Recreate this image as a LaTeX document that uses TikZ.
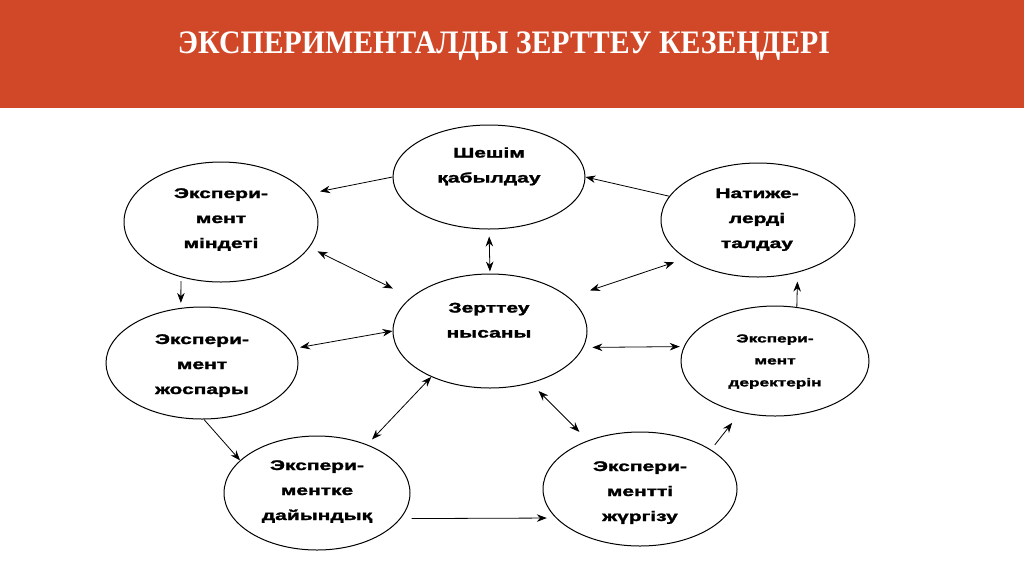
\documentclass[tikz,border=0pt]{standalone}
\usepackage{fontspec}
\usepackage{graphicx}
\newfontfamily\titlefont{Liberation Serif}
\newfontfamily\boxfont{Liberation Sans}[BoldFeatures={FakeBold=1.5}]
\usetikzlibrary{arrows.meta,shapes.geometric}
\definecolor{banner}{RGB}{209,72,40}
\newcommand\etxt[1]{\scalebox{1.5}[1]{\begin{tabular}{@{}c@{}}#1\end{tabular}}}
\tikzset{
  ell/.style={draw, line width=1pt, ellipse, inner sep=0pt},
  lbl/.style={inner sep=0pt, font=\boxfont\bfseries\fontsize{14}{25}\selectfont},
  lblsmall/.style={inner sep=0pt, font=\boxfont\bfseries\fontsize{11.5}{22}\selectfont},
  conn/.style={line width=0.8pt, -{Stealth[length=10pt,width=7.5pt]}},
  conntwo/.style={line width=0.8pt, {Stealth[length=10pt,width=7.5pt]}-{Stealth[length=10pt,width=7.5pt]}}
}
\begin{document}
\begin{tikzpicture}[x=1pt,y=-1pt]
\useasboundingbox (0,0) rectangle (1024,574);
\fill[white] (0,0) rectangle (1024,574);
\fill[banner] (0,0) rectangle (1024,108);
\node[anchor=base, text=white, inner sep=0pt, font=\titlefont\bfseries\fontsize{30}{30}\selectfont] (title) at (504,53) {\scalebox{1}[1.1]{\resizebox{652pt}{!}{ЭКСПЕРИМЕНТАЛДЫ ЗЕРТТЕУ КЕЗЕҢДЕРІ}}};

% ellipses
\node[ell, minimum width=192pt, minimum height=104pt] (S) at (489,177) {};
\node[ell, minimum width=194pt, minimum height=120pt] (M) at (221,222) {};
\node[ell, minimum width=192pt, minimum height=112pt] (J) at (202,363) {};
\node[ell, minimum width=186pt, minimum height=114pt] (D) at (317,493) {};
\node[ell, minimum width=194pt, minimum height=114pt] (G) at (640,489) {};
\node[ell, minimum width=188pt, minimum height=110pt] (R) at (775,361) {};
\node[ell, minimum width=194pt, minimum height=114pt] (N) at (758,220) {};
\node[ell, minimum width=194pt, minimum height=114pt] (Z) at (490,331) {};

% texts
\node[lbl] (St) at (489,165) {\etxt{Шешім\\қабылдау}};
\node[lbl] (Mt) at (221,218) {\etxt{Экспери-\\мент\\міндеті}};
\node[lbl] (Jt) at (202,364) {\etxt{Экспери-\\мент\\жоспары}};
\node[lbl] (Dt) at (317,490) {\etxt{Экспери-\\ментке\\дайындық}};
\node[lbl] (Gt) at (640,491) {\etxt{Экспери-\\ментті\\жүргізу}};
\node[lblsmall] (Rt) at (775,360) {\etxt{Экспери-\\мент\\деректерін}};
\node[lbl] (Nt) at (757,218) {\etxt{Натиже-\\лерді\\талдау}};
\node[lbl] (Zt) at (489,320) {\etxt{Зерттеу\\нысаны}};

% connectors
\draw[conn, shorten >=13pt] (S.west) -- (M.18);
\draw[conn] (N.165) -- (S.east);
\draw[conntwo, shorten <=7pt, shorten >=2pt] (S.south) -- (Z.north);
\draw[conntwo, shorten <=9pt, shorten >=20pt] (M.-16) -- (Z.157);
\draw[conn, shorten <=4pt, shorten >=5pt] (M.-126) -- (J.111);
\draw[conntwo, shorten <=5pt] (J.9) -- (Z.180);
\draw[conn] (J.-88) -- (D.157);
\draw[conntwo, shorten <=7pt] (D.44) -- (Z.218);
\draw[conn, shorten <=11pt, shorten >=9pt] (D.-17) -- (G.199);
\draw[conntwo, shorten <=11pt, shorten >=12pt] (Z.-52) -- (G.137);
\draw[conn, shorten <=6pt, shorten >=13pt] (G.29) -- (R.-124);
\draw[conntwo, shorten <=9pt, shorten >=4pt] (Z.-10) -- (R.171);
\draw[conn, shorten >=9pt] (R.68) -- (N.-53);
\draw[conntwo, shorten <=22pt, shorten >=12pt] (Z.23) -- (N.208);
\end{tikzpicture}
\end{document}
